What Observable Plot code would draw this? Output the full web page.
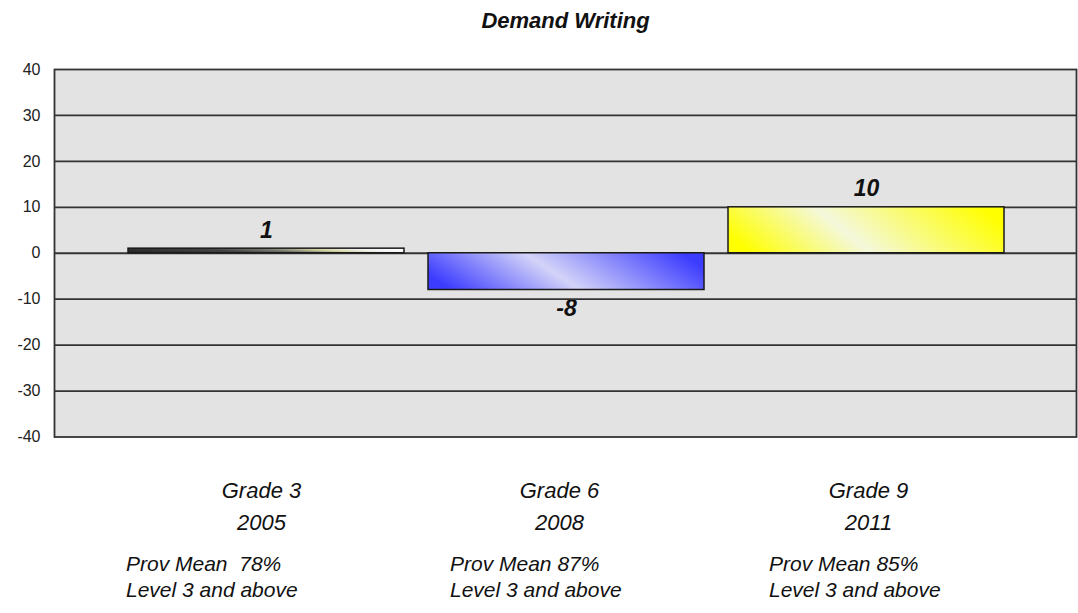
<!DOCTYPE html>
<html><head><meta charset="utf-8">
<script src="https://cdn.jsdelivr.net/npm/d3@7"></script>
<script src="https://cdn.jsdelivr.net/npm/@observablehq/plot@0.6"></script>
<style>
body{margin:0;background:#fff;}
#chart svg{display:block;}
#chart text{white-space:pre;}
</style></head><body><div id="chart"></div>
<script>
const title = "Demand Writing";
const categories = ["Grade 3", "Grade 6", "Grade 9"];
const years = ["2005", "2008", "2011"];
const values = [1, -8, 10];
const provMeans = ["Prov Mean  78%", "Prov Mean 87%", "Prov Mean 85%"];
const provSubtitle = "Level 3 and above";
const yTicks = [-40, -30, -20, -10, 0, 10, 20, 30, 40];

const data = categories.map((c, i) => ({category: c, year: years[i], value: values[i], prov: provMeans[i]}));

// styles (gradient fills for the bars)
const gradients = [
  {id: "g0", stops: [[0, "#2b2b2b"], [0.35, "#444"], [0.55, "#7a7a72"], [0.72, "#d6d6a0"], [0.85, "#f0f0f0"], [1, "#ffffff"]]},
  {id: "g1", stops: [[0, "#3c3cff"], [0.45, "#d3d3f8"], [1, "#3c3cff"]]},
  {id: "g2", stops: [[0, "#ffff00"], [0.42, "#f4f8dc"], [1, "#ffff00"]]}
];
const font = '"Liberation Sans", Arial, Helvetica, sans-serif';
const provDx = [-140.5, -116.5, -97.5];
const catDx = [-5, -7, 2];

const chart = Plot.plot({
  width: 1078, height: 613,
  marginLeft: 54, marginRight: 2, marginTop: 69, marginBottom: 176.5,
  style: {fontFamily: font, background: "#fff", overflow: "visible", color: "#111"},
  x: {domain: categories, range: [115, 1017], paddingInner: 0.08, paddingOuter: 0.04, axis: null},
  y: {domain: [-40, 40], axis: null},
  color: {type: "identity"},
  marks: [
    Plot.frame({fill: "#e3e3e3", stroke: null}),
    Plot.text(data.filter(d => d.value >= 0), {x: "category", y: "value", text: d => String(d.value), dy: -11, lineAnchor: "bottom", fontSize: 23, fontWeight: "bold", fontStyle: "italic", fill: "#111"}),
    Plot.text(data.filter(d => d.value < 0), {x: "category", y: "value", text: d => String(d.value), dy: 26, lineAnchor: "bottom", fontSize: 23, fontWeight: "bold", fontStyle: "italic", fill: "#111"}),
    Plot.ruleY(yTicks.filter(t => t > -40 && t < 40), {stroke: "#333", strokeWidth: 1.8}),
    Plot.barY(data, {x: "category", y: "value", fill: (d, i) => `url(#${gradients[i].id})`, stroke: "#1a1a1a", strokeWidth: 1.5}),
    Plot.frame({stroke: "#333", strokeWidth: 1.8}),
    Plot.axisY(yTicks, {tickSize: 0, tickPadding: 14, fontSize: 16, fill: "#222", label: null, tickFormat: d => String(d)}),
    Plot.text([title], {frameAnchor: "top", dy: -42, lineAnchor: "bottom", fontSize: 22, fontWeight: "bold", fontStyle: "italic", fill: "#111"}),
    ...data.map((d, i) => Plot.text([d], {x: "category", text: e => e.category + "\n" + e.year, frameAnchor: "bottom", lineAnchor: "bottom", dy: 92.5, dx: catDx[i], lineHeight: 1.45, fontSize: 22, fontStyle: "italic", fill: "#111"})),
    ...data.map((d, i) => Plot.text([d], {x: "category", text: e => e.prov + "\n" + provSubtitle, frameAnchor: "bottom", lineAnchor: "bottom", dy: 159.5, dx: provDx[i], textAnchor: "start", lineHeight: 1.2, fontSize: 21, fontStyle: "italic", fill: "#111"}))
  ]
});

const defs = d3.select(chart).insert("defs", ":first-child");
gradients.forEach(g => {
  const lg = defs.append("linearGradient").attr("id", g.id)
    .attr("x1", 0).attr("y1", 0.6).attr("x2", 1).attr("y2", 0.4);
  g.stops.forEach(([o, c]) => lg.append("stop").attr("offset", o).attr("stop-color", c));
});

document.getElementById("chart").appendChild(chart);
</script>
</body></html>
